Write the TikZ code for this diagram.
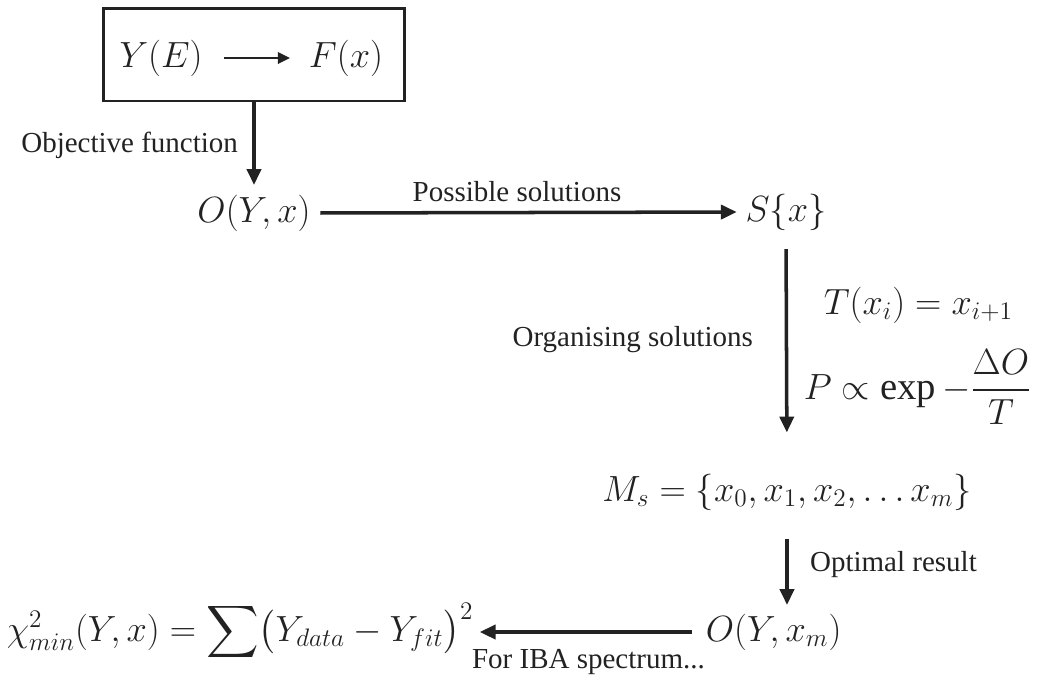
\documentclass[tikz,border=0pt]{standalone}
\usepackage{amsmath}
\usepackage{fontspec}
\setmainfont{Liberation Serif}
\usepackage{tikz}
\usetikzlibrary{arrows.meta, positioning}
\definecolor{mydark}{RGB}{34,34,34}
\tikzset{
  eqnode/.style={inner sep=2pt, text=mydark, font=\fontsize{22}{26}\selectfont},
  lblnode/.style={inner sep=1pt, text=mydark, font=\fontsize{16.5}{20}\selectfont},
  framebox/.style={rectangle, draw=mydark, line width=1.7pt,
    minimum width=6.04cm, minimum height=1.86cm},
  arrow/.style={-{Triangle[length=9pt, width=8pt]}, line width=2pt, color=mydark},
  thinarrow/.style={-{Triangle[length=7pt, width=6.5pt]}, line width=1.5pt, color=mydark}
}

\begin{document}
\begin{tikzpicture}[x=0.02cm, y=-0.02cm]
  \useasboundingbox (0,0) rectangle (1054,684);

  % model box
  \node[framebox] (model) at (254,54.5) {};
  \node[eqnode] (ye) at (161,58) {$Y(E)$};
  \node[eqnode] (fx) at (346,58) {$F(x)$};
  \draw[thinarrow, shorten <=0.36cm, shorten >=0.3cm] (ye) -- (fx);

  % objective function
  \node[eqnode] (oyx) at (254,213) {$O(Y,x)$};
  \draw[arrow, shorten >=0.12cm] (model.south) -- (oyx.north);
  \node[lblnode, anchor=east] (objlbl) at (240,145) {Objective function};

  % possible solutions
  \node[eqnode] (sx) at (786,212) {$S\{x\}$};
  \draw[arrow, shorten <=0.12cm, shorten >=0.1cm] (oyx.east) -- (sx.west);
  \node[lblnode] (poslbl) at (517,192) {Possible solutions};

  % organising solutions
  \node[eqnode] (ms) at (787,492) {$M_s = \{x_0, x_1, x_2, \ldots x_m\}$};
  \draw[arrow, shorten <=0.3cm, shorten >=0.75cm] (sx.south) -- (ms.north);
  \node[lblnode, anchor=east] (orglbl) at (755,340) {Organising solutions};
  \node[eqnode, anchor=west] (trans) at (820,305) {$T(x_i) = x_{i+1}$};
  \node[eqnode, anchor=west] (prob) at (800,387) {$P \propto \exp - \dfrac{\Delta O}{T}$};

  % optimal result
  \node[eqnode, anchor=west] (oyxm) at (702,632) {$O(Y,x_m)$};
  \draw[arrow, shorten <=0.5cm, shorten >=0.1cm] (ms.south) -- (ms.south |- oyxm.north);
  \node[lblnode, anchor=west] (optlbl) at (808,565) {Optimal result};

  % chi squared
  \node[eqnode, anchor=west] (chi) at (3,632)
    {$\chi^2_{min}(Y,x) = \displaystyle\sum \bigl(Y_{data} - Y_{fit}\bigr)^2$};
  \draw[arrow, shorten <=0.2cm, shorten >=0.05cm] (oyxm.west) -- (chi.east);
  \node[lblnode, anchor=west] (ibalbl) at (470,662) {For IBA spectrum...};
\end{tikzpicture}
\end{document}
